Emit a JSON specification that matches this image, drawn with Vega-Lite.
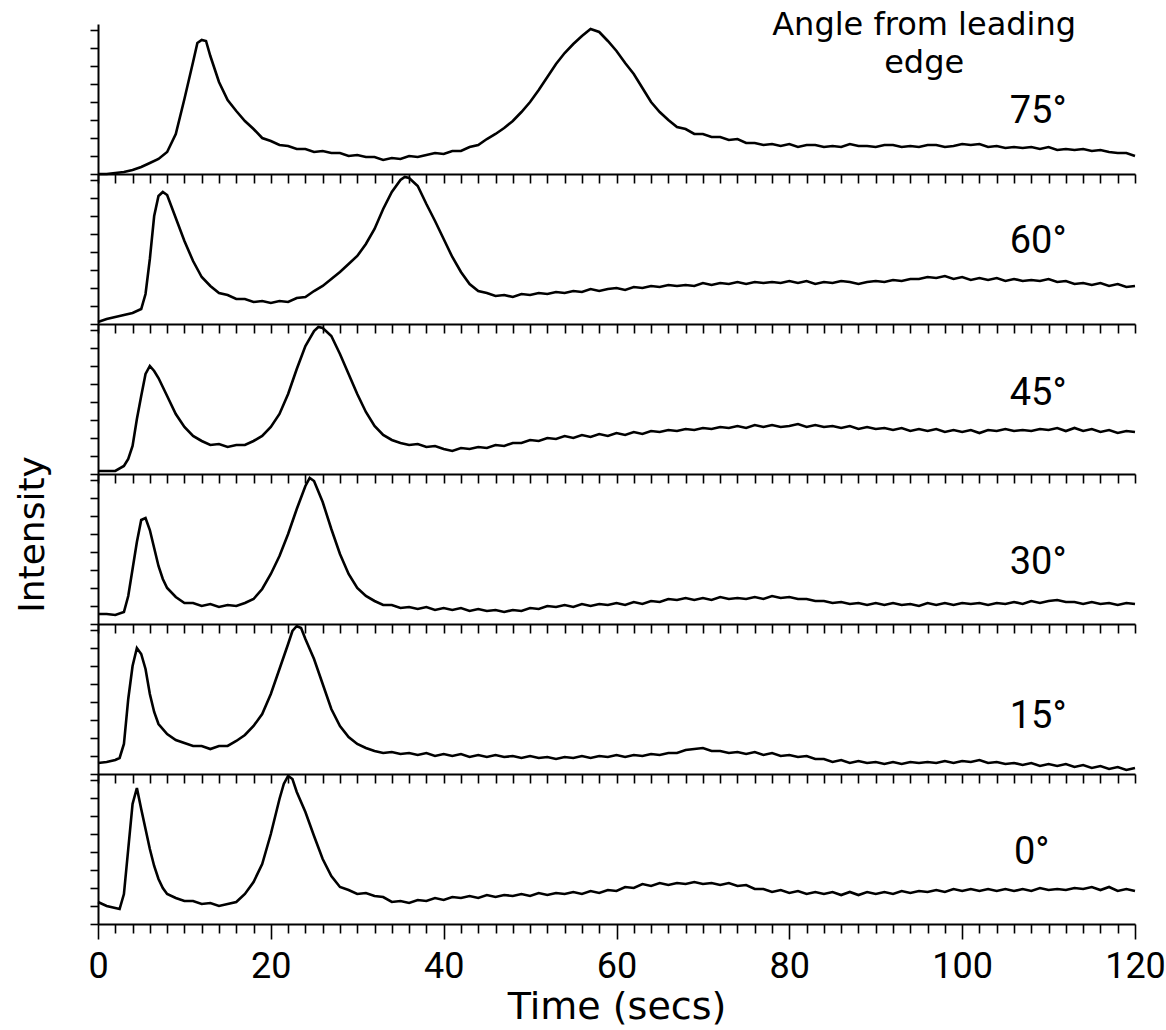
{
"$schema": "https://vega.github.io/schema/vega-lite/v6.json",
"background": "white",
"padding": {"left": 14, "top": 9, "right": 0, "bottom": 2},
"spacing": 0,
"bounds": "flush",
"config": {"view": {"stroke": null}, "axis": {"domainColor": "#000", "tickColor": "#000", "domainWidth": 2, "tickWidth": 1.6, "grid": false, "labelColor": "#000", "titleColor": "#000"}},
"datasets": {
"a75": [{"t":0,"v":0},{"t":1,"v":0},{"t":2,"v":1},{"t":3,"v":2},{"t":4,"v":4},{"t":5,"v":7},{"t":6,"v":11},{"t":7,"v":15},{"t":8,"v":22},{"t":9,"v":40},{"t":10,"v":75},{"t":11,"v":112},{"t":11.5,"v":131},{"t":12,"v":134},{"t":12.5,"v":133},{"t":13,"v":118},{"t":14,"v":92},{"t":15,"v":74},{"t":16,"v":63},{"t":17,"v":53},{"t":18,"v":45},{"t":19,"v":36},{"t":20,"v":33},{"t":21,"v":29},{"t":22,"v":28},{"t":23,"v":25},{"t":24,"v":25},{"t":25,"v":22},{"t":26,"v":23},{"t":27,"v":21},{"t":28,"v":21},{"t":29,"v":18},{"t":30,"v":19},{"t":31,"v":17},{"t":32,"v":17},{"t":33,"v":14},{"t":34,"v":16},{"t":35,"v":15},{"t":36,"v":18},{"t":37,"v":17},{"t":38,"v":19},{"t":39,"v":21},{"t":40,"v":20},{"t":41,"v":23},{"t":42,"v":23},{"t":43,"v":27},{"t":44,"v":29},{"t":45,"v":35},{"t":46,"v":40},{"t":47,"v":46},{"t":48,"v":53},{"t":49,"v":62},{"t":50,"v":72},{"t":51,"v":84},{"t":52,"v":97},{"t":53,"v":110},{"t":54,"v":121},{"t":55,"v":130},{"t":56,"v":138},{"t":57,"v":145},{"t":58,"v":142},{"t":59,"v":133},{"t":60,"v":123},{"t":61,"v":111},{"t":62,"v":100},{"t":63,"v":86},{"t":64,"v":72},{"t":65,"v":62},{"t":66,"v":54},{"t":67,"v":47},{"t":68,"v":45},{"t":69,"v":40},{"t":70,"v":40},{"t":71,"v":37},{"t":72,"v":37},{"t":73,"v":34},{"t":74,"v":35},{"t":75,"v":31},{"t":76,"v":31},{"t":77,"v":29},{"t":78,"v":30},{"t":79,"v":28},{"t":80,"v":30},{"t":81,"v":27},{"t":82,"v":29},{"t":83,"v":29},{"t":84,"v":27},{"t":85,"v":28},{"t":86,"v":27},{"t":87,"v":30},{"t":88,"v":28},{"t":89,"v":28},{"t":90,"v":27},{"t":91,"v":29},{"t":92,"v":29},{"t":93,"v":27},{"t":94,"v":28},{"t":95,"v":27},{"t":96,"v":29},{"t":97,"v":29},{"t":98,"v":27},{"t":99,"v":28},{"t":100,"v":30},{"t":101,"v":29},{"t":102,"v":30},{"t":103,"v":27},{"t":104,"v":28},{"t":105,"v":26},{"t":106,"v":27},{"t":107,"v":26},{"t":108,"v":27},{"t":109,"v":25},{"t":110,"v":27},{"t":111,"v":24},{"t":112,"v":25},{"t":113,"v":24},{"t":114,"v":25},{"t":115,"v":23},{"t":116,"v":24},{"t":117,"v":22},{"t":118,"v":21},{"t":119,"v":21},{"t":120,"v":18}],
"a60": [{"t":0,"v":2},{"t":1,"v":5},{"t":2,"v":7},{"t":3,"v":9},{"t":4,"v":11},{"t":5,"v":15},{"t":5.5,"v":30},{"t":6,"v":65},{"t":6.5,"v":108},{"t":7,"v":128},{"t":7.5,"v":132},{"t":8,"v":129},{"t":9,"v":106},{"t":10,"v":83},{"t":11,"v":63},{"t":12,"v":47},{"t":13,"v":38},{"t":14,"v":31},{"t":15,"v":29},{"t":16,"v":25},{"t":17,"v":25},{"t":18,"v":22},{"t":19,"v":23},{"t":20,"v":21},{"t":21,"v":23},{"t":22,"v":22},{"t":23,"v":26},{"t":24,"v":27},{"t":25,"v":33},{"t":26,"v":38},{"t":27,"v":45},{"t":28,"v":52},{"t":29,"v":60},{"t":30,"v":68},{"t":31,"v":80},{"t":32,"v":95},{"t":33,"v":115},{"t":34,"v":132},{"t":35,"v":144},{"t":35.5,"v":147},{"t":36,"v":146},{"t":37,"v":138},{"t":38,"v":120},{"t":39,"v":103},{"t":40,"v":85},{"t":41,"v":67},{"t":42,"v":52},{"t":43,"v":40},{"t":44,"v":33},{"t":45,"v":31},{"t":46,"v":28},{"t":47,"v":29},{"t":48,"v":27},{"t":49,"v":30},{"t":50,"v":29},{"t":51,"v":31},{"t":52,"v":30},{"t":53,"v":32},{"t":54,"v":31},{"t":55,"v":33},{"t":56,"v":32},{"t":57,"v":35},{"t":58,"v":33},{"t":59,"v":35},{"t":60,"v":36},{"t":61,"v":34},{"t":62,"v":37},{"t":63,"v":36},{"t":64,"v":38},{"t":65,"v":37},{"t":66,"v":39},{"t":67,"v":38},{"t":68,"v":39},{"t":69,"v":38},{"t":70,"v":41},{"t":71,"v":39},{"t":72,"v":41},{"t":73,"v":40},{"t":74,"v":42},{"t":75,"v":40},{"t":76,"v":42},{"t":77,"v":41},{"t":78,"v":42},{"t":79,"v":41},{"t":80,"v":43},{"t":81,"v":41},{"t":82,"v":43},{"t":83,"v":40},{"t":84,"v":42},{"t":85,"v":41},{"t":86,"v":43},{"t":87,"v":42},{"t":88,"v":40},{"t":89,"v":42},{"t":90,"v":43},{"t":91,"v":42},{"t":92,"v":44},{"t":93,"v":43},{"t":94,"v":45},{"t":95,"v":45},{"t":96,"v":47},{"t":97,"v":46},{"t":98,"v":48},{"t":99,"v":45},{"t":100,"v":47},{"t":101,"v":44},{"t":102,"v":46},{"t":103,"v":44},{"t":104,"v":46},{"t":105,"v":43},{"t":106,"v":45},{"t":107,"v":43},{"t":108,"v":44},{"t":109,"v":43},{"t":110,"v":45},{"t":111,"v":42},{"t":112,"v":43},{"t":113,"v":40},{"t":114,"v":41},{"t":115,"v":39},{"t":116,"v":41},{"t":117,"v":38},{"t":118,"v":40},{"t":119,"v":37},{"t":120,"v":38}],
"a45": [{"t":0,"v":3},{"t":1,"v":3},{"t":2,"v":3},{"t":3,"v":8},{"t":3.5,"v":15},{"t":4,"v":28},{"t":4.5,"v":55},{"t":5,"v":78},{"t":5.5,"v":100},{"t":6,"v":108},{"t":6.5,"v":103},{"t":7,"v":96},{"t":8,"v":78},{"t":9,"v":60},{"t":10,"v":47},{"t":11,"v":38},{"t":12,"v":33},{"t":13,"v":29},{"t":14,"v":30},{"t":15,"v":27},{"t":16,"v":29},{"t":17,"v":29},{"t":18,"v":33},{"t":19,"v":38},{"t":20,"v":47},{"t":21,"v":60},{"t":22,"v":80},{"t":23,"v":105},{"t":24,"v":128},{"t":25,"v":143},{"t":25.5,"v":147},{"t":26,"v":146},{"t":27,"v":138},{"t":28,"v":120},{"t":29,"v":100},{"t":30,"v":80},{"t":31,"v":62},{"t":32,"v":48},{"t":33,"v":39},{"t":34,"v":34},{"t":35,"v":31},{"t":36,"v":29},{"t":37,"v":30},{"t":38,"v":27},{"t":39,"v":28},{"t":40,"v":25},{"t":41,"v":23},{"t":42,"v":26},{"t":43,"v":25},{"t":44,"v":27},{"t":45,"v":26},{"t":46,"v":29},{"t":47,"v":28},{"t":48,"v":31},{"t":49,"v":31},{"t":50,"v":34},{"t":51,"v":33},{"t":52,"v":36},{"t":53,"v":35},{"t":54,"v":38},{"t":55,"v":36},{"t":56,"v":39},{"t":57,"v":37},{"t":58,"v":40},{"t":59,"v":38},{"t":60,"v":41},{"t":61,"v":39},{"t":62,"v":42},{"t":63,"v":40},{"t":64,"v":43},{"t":65,"v":42},{"t":66,"v":44},{"t":67,"v":43},{"t":68,"v":45},{"t":69,"v":44},{"t":70,"v":46},{"t":71,"v":45},{"t":72,"v":47},{"t":73,"v":46},{"t":74,"v":48},{"t":75,"v":46},{"t":76,"v":49},{"t":77,"v":47},{"t":78,"v":49},{"t":79,"v":47},{"t":80,"v":48},{"t":81,"v":50},{"t":82,"v":47},{"t":83,"v":49},{"t":84,"v":47},{"t":85,"v":48},{"t":86,"v":46},{"t":87,"v":48},{"t":88,"v":45},{"t":89,"v":47},{"t":90,"v":45},{"t":91,"v":46},{"t":92,"v":44},{"t":93,"v":46},{"t":94,"v":43},{"t":95,"v":45},{"t":96,"v":43},{"t":97,"v":45},{"t":98,"v":42},{"t":99,"v":44},{"t":100,"v":42},{"t":101,"v":44},{"t":102,"v":41},{"t":103,"v":44},{"t":104,"v":43},{"t":105,"v":45},{"t":106,"v":43},{"t":107,"v":44},{"t":108,"v":43},{"t":109,"v":45},{"t":110,"v":44},{"t":111,"v":46},{"t":112,"v":43},{"t":113,"v":46},{"t":114,"v":43},{"t":115,"v":45},{"t":116,"v":42},{"t":117,"v":44},{"t":118,"v":41},{"t":119,"v":43},{"t":120,"v":42}],
"a30": [{"t":0,"v":10},{"t":1,"v":10},{"t":2,"v":9},{"t":3,"v":12},{"t":3.5,"v":28},{"t":4,"v":55},{"t":4.5,"v":82},{"t":5,"v":104},{"t":5.5,"v":106},{"t":6,"v":94},{"t":6.5,"v":76},{"t":7,"v":58},{"t":7.5,"v":45},{"t":8,"v":36},{"t":9,"v":27},{"t":10,"v":21},{"t":11,"v":21},{"t":12,"v":18},{"t":13,"v":20},{"t":14,"v":17},{"t":15,"v":19},{"t":16,"v":18},{"t":17,"v":21},{"t":18,"v":25},{"t":19,"v":35},{"t":20,"v":50},{"t":21,"v":68},{"t":22,"v":90},{"t":23,"v":115},{"t":24,"v":138},{"t":24.5,"v":146},{"t":25,"v":143},{"t":26,"v":122},{"t":27,"v":95},{"t":28,"v":70},{"t":29,"v":50},{"t":30,"v":36},{"t":31,"v":28},{"t":32,"v":23},{"t":33,"v":19},{"t":34,"v":19},{"t":35,"v":16},{"t":36,"v":17},{"t":37,"v":15},{"t":38,"v":17},{"t":39,"v":14},{"t":40,"v":16},{"t":41,"v":14},{"t":42,"v":16},{"t":43,"v":13},{"t":44,"v":15},{"t":45,"v":13},{"t":46,"v":14},{"t":47,"v":12},{"t":48,"v":14},{"t":49,"v":13},{"t":50,"v":16},{"t":51,"v":15},{"t":52,"v":18},{"t":53,"v":17},{"t":54,"v":19},{"t":55,"v":17},{"t":56,"v":20},{"t":57,"v":18},{"t":58,"v":20},{"t":59,"v":19},{"t":60,"v":21},{"t":61,"v":19},{"t":62,"v":22},{"t":63,"v":20},{"t":64,"v":23},{"t":65,"v":22},{"t":66,"v":25},{"t":67,"v":24},{"t":68,"v":26},{"t":69,"v":24},{"t":70,"v":26},{"t":71,"v":24},{"t":72,"v":27},{"t":73,"v":25},{"t":74,"v":26},{"t":75,"v":25},{"t":76,"v":27},{"t":77,"v":25},{"t":78,"v":28},{"t":79,"v":26},{"t":80,"v":27},{"t":81,"v":25},{"t":82,"v":25},{"t":83,"v":23},{"t":84,"v":23},{"t":85,"v":21},{"t":86,"v":22},{"t":87,"v":20},{"t":88,"v":21},{"t":89,"v":19},{"t":90,"v":21},{"t":91,"v":19},{"t":92,"v":21},{"t":93,"v":19},{"t":94,"v":20},{"t":95,"v":18},{"t":96,"v":21},{"t":97,"v":19},{"t":98,"v":21},{"t":99,"v":19},{"t":100,"v":21},{"t":101,"v":20},{"t":102,"v":21},{"t":103,"v":19},{"t":104,"v":21},{"t":105,"v":20},{"t":106,"v":22},{"t":107,"v":20},{"t":108,"v":23},{"t":109,"v":21},{"t":110,"v":23},{"t":111,"v":24},{"t":112,"v":22},{"t":113,"v":22},{"t":114,"v":20},{"t":115,"v":22},{"t":116,"v":20},{"t":117,"v":21},{"t":118,"v":19},{"t":119,"v":21},{"t":120,"v":20}],
"a15": [{"t":0,"v":11},{"t":1,"v":12},{"t":2,"v":14},{"t":2.5,"v":16},{"t":3,"v":30},{"t":3.5,"v":75},{"t":4,"v":108},{"t":4.5,"v":126},{"t":5,"v":120},{"t":5.5,"v":105},{"t":6,"v":80},{"t":6.5,"v":62},{"t":7,"v":50},{"t":8,"v":40},{"t":9,"v":34},{"t":10,"v":31},{"t":11,"v":28},{"t":12,"v":28},{"t":13,"v":25},{"t":14,"v":28},{"t":15,"v":28},{"t":16,"v":33},{"t":17,"v":39},{"t":18,"v":48},{"t":19,"v":60},{"t":20,"v":80},{"t":21,"v":105},{"t":22,"v":130},{"t":22.5,"v":143},{"t":23,"v":148},{"t":23.5,"v":146},{"t":24,"v":135},{"t":25,"v":115},{"t":26,"v":90},{"t":27,"v":65},{"t":28,"v":48},{"t":29,"v":37},{"t":30,"v":30},{"t":31,"v":26},{"t":32,"v":23},{"t":33,"v":21},{"t":34,"v":22},{"t":35,"v":20},{"t":36,"v":21},{"t":37,"v":19},{"t":38,"v":21},{"t":39,"v":18},{"t":40,"v":20},{"t":41,"v":18},{"t":42,"v":20},{"t":43,"v":17},{"t":44,"v":19},{"t":45,"v":17},{"t":46,"v":19},{"t":47,"v":17},{"t":48,"v":18},{"t":49,"v":16},{"t":50,"v":18},{"t":51,"v":16},{"t":52,"v":17},{"t":53,"v":15},{"t":54,"v":17},{"t":55,"v":16},{"t":56,"v":18},{"t":57,"v":16},{"t":58,"v":18},{"t":59,"v":17},{"t":60,"v":19},{"t":61,"v":17},{"t":62,"v":19},{"t":63,"v":18},{"t":64,"v":20},{"t":65,"v":19},{"t":66,"v":21},{"t":67,"v":21},{"t":68,"v":24},{"t":69,"v":25},{"t":70,"v":26},{"t":71,"v":23},{"t":72,"v":23},{"t":73,"v":21},{"t":74,"v":22},{"t":75,"v":20},{"t":76,"v":22},{"t":77,"v":19},{"t":78,"v":21},{"t":79,"v":18},{"t":80,"v":19},{"t":81,"v":17},{"t":82,"v":18},{"t":83,"v":15},{"t":84,"v":15},{"t":85,"v":12},{"t":86,"v":14},{"t":87,"v":11},{"t":88,"v":13},{"t":89,"v":11},{"t":90,"v":12},{"t":91,"v":10},{"t":92,"v":12},{"t":93,"v":10},{"t":94,"v":12},{"t":95,"v":11},{"t":96,"v":12},{"t":97,"v":11},{"t":98,"v":13},{"t":99,"v":11},{"t":100,"v":13},{"t":101,"v":12},{"t":102,"v":14},{"t":103,"v":11},{"t":104,"v":12},{"t":105,"v":10},{"t":106,"v":11},{"t":107,"v":9},{"t":108,"v":11},{"t":109,"v":8},{"t":110,"v":10},{"t":111,"v":8},{"t":112,"v":10},{"t":113,"v":7},{"t":114,"v":9},{"t":115,"v":6},{"t":116,"v":8},{"t":117,"v":5},{"t":118,"v":7},{"t":119,"v":4},{"t":120,"v":6}],
"a0": [{"t":0,"v":22},{"t":1,"v":18},{"t":2,"v":16},{"t":2.5,"v":15},{"t":3,"v":30},{"t":3.5,"v":75},{"t":4,"v":120},{"t":4.5,"v":136},{"t":5,"v":115},{"t":5.5,"v":95},{"t":6,"v":75},{"t":6.5,"v":58},{"t":7,"v":45},{"t":7.5,"v":36},{"t":8,"v":30},{"t":9,"v":26},{"t":10,"v":23},{"t":11,"v":23},{"t":12,"v":20},{"t":13,"v":21},{"t":14,"v":18},{"t":15,"v":20},{"t":16,"v":22},{"t":17,"v":30},{"t":18,"v":42},{"t":19,"v":60},{"t":20,"v":90},{"t":21,"v":125},{"t":21.5,"v":140},{"t":22,"v":148},{"t":22.5,"v":145},{"t":23,"v":132},{"t":24,"v":112},{"t":25,"v":88},{"t":26,"v":65},{"t":27,"v":48},{"t":28,"v":37},{"t":29,"v":34},{"t":30,"v":30},{"t":31,"v":31},{"t":32,"v":28},{"t":33,"v":27},{"t":34,"v":22},{"t":35,"v":23},{"t":36,"v":21},{"t":37,"v":24},{"t":38,"v":23},{"t":39,"v":26},{"t":40,"v":24},{"t":41,"v":27},{"t":42,"v":26},{"t":43,"v":28},{"t":44,"v":26},{"t":45,"v":29},{"t":46,"v":27},{"t":47,"v":29},{"t":48,"v":28},{"t":49,"v":30},{"t":50,"v":28},{"t":51,"v":31},{"t":52,"v":29},{"t":53,"v":31},{"t":54,"v":30},{"t":55,"v":32},{"t":56,"v":30},{"t":57,"v":33},{"t":58,"v":31},{"t":59,"v":34},{"t":60,"v":33},{"t":61,"v":37},{"t":62,"v":36},{"t":63,"v":40},{"t":64,"v":38},{"t":65,"v":41},{"t":66,"v":39},{"t":67,"v":41},{"t":68,"v":40},{"t":69,"v":42},{"t":70,"v":40},{"t":71,"v":41},{"t":72,"v":39},{"t":73,"v":41},{"t":74,"v":38},{"t":75,"v":39},{"t":76,"v":35},{"t":77,"v":35},{"t":78,"v":32},{"t":79,"v":34},{"t":80,"v":31},{"t":81,"v":33},{"t":82,"v":30},{"t":83,"v":32},{"t":84,"v":30},{"t":85,"v":32},{"t":86,"v":29},{"t":87,"v":32},{"t":88,"v":29},{"t":89,"v":32},{"t":90,"v":30},{"t":91,"v":32},{"t":92,"v":30},{"t":93,"v":33},{"t":94,"v":31},{"t":95,"v":33},{"t":96,"v":32},{"t":97,"v":34},{"t":98,"v":32},{"t":99,"v":35},{"t":100,"v":33},{"t":101,"v":35},{"t":102,"v":33},{"t":103,"v":35},{"t":104,"v":33},{"t":105,"v":35},{"t":106,"v":33},{"t":107,"v":35},{"t":108,"v":33},{"t":109,"v":36},{"t":110,"v":34},{"t":111,"v":35},{"t":112,"v":34},{"t":113,"v":36},{"t":114,"v":35},{"t":115,"v":37},{"t":116,"v":34},{"t":117,"v":37},{"t":118,"v":33},{"t":119,"v":35},{"t":120,"v":33}]
},
"vconcat": [
{"width": 1037, "height": 150, "layer": [
 {"data": {"name": "a75"}, "mark": {"type": "line", "color": "#000", "strokeWidth": 2.6},
  "encoding": {"x": {"field": "t", "type": "quantitative", "scale": {"domain": [0, 120], "nice": false}, "axis": {"tickCount": 60, "labels": false, "title": null, "tickSize": 9}},
   "y": {"field": "v", "type": "quantitative", "scale": {"domain": [0, 150], "nice": false}, "axis": {"values": [0,18,36,54,72,90,108,126,144], "tickCount": 10, "labels": false, "title": null, "tickSize": 8}}}},
 {"data": {"values": [{"label": "75°"}]}, "mark": {"type": "text", "font": "Roboto", "fontSize": 38, "align": "left", "baseline": "alphabetic", "color": "#000"},
  "encoding": {"x": {"datum": 105.5}, "y": {"datum": 51}, "text": {"field": "label"}}},
 {"data": {"values": [{"label": "Angle from leading\nedge"}]}, "mark": {"type": "text", "font": "DejaVu Sans", "fontSize": 32, "align": "center", "baseline": "alphabetic", "lineBreak": "\n", "lineHeight": 38, "color": "#000"},
  "encoding": {"x": {"datum": 95.6}, "y": {"datum": 139}, "text": {"field": "label"}}}
]},
{"width": 1037, "height": 150, "layer": [
 {"data": {"name": "a60"}, "mark": {"type": "line", "color": "#000", "strokeWidth": 2.6},
  "encoding": {"x": {"field": "t", "type": "quantitative", "scale": {"domain": [0, 120], "nice": false}, "axis": {"tickCount": 60, "labels": false, "title": null, "tickSize": 9}},
   "y": {"field": "v", "type": "quantitative", "scale": {"domain": [0, 150], "nice": false}, "axis": {"values": [0,18,36,54,72,90,108,126,144], "tickCount": 10, "labels": false, "title": null, "tickSize": 8}}}},
 {"data": {"values": [{"label": "60°"}]}, "mark": {"type": "text", "font": "Roboto", "fontSize": 38, "align": "left", "baseline": "alphabetic", "color": "#000"},
  "encoding": {"x": {"datum": 105.5}, "y": {"datum": 71}, "text": {"field": "label"}}}
]},
{"width": 1037, "height": 150, "layer": [
 {"data": {"name": "a45"}, "mark": {"type": "line", "color": "#000", "strokeWidth": 2.6},
  "encoding": {"x": {"field": "t", "type": "quantitative", "scale": {"domain": [0, 120], "nice": false}, "axis": {"tickCount": 60, "labels": false, "title": null, "tickSize": 9}},
   "y": {"field": "v", "type": "quantitative", "scale": {"domain": [0, 150], "nice": false}, "axis": {"values": [0,18,36,54,72,90,108,126,144], "tickCount": 10, "labels": false, "title": null, "tickSize": 8}}}},
 {"data": {"values": [{"label": "45°"}]}, "mark": {"type": "text", "font": "Roboto", "fontSize": 38, "align": "left", "baseline": "alphabetic", "color": "#000"},
  "encoding": {"x": {"datum": 105.5}, "y": {"datum": 69}, "text": {"field": "label"}}}
]},
{"width": 1037, "height": 150, "layer": [
 {"data": {"name": "a30"}, "mark": {"type": "line", "color": "#000", "strokeWidth": 2.6},
  "encoding": {"x": {"field": "t", "type": "quantitative", "scale": {"domain": [0, 120], "nice": false}, "axis": {"tickCount": 60, "labels": false, "title": null, "tickSize": 9}},
   "y": {"field": "v", "type": "quantitative", "scale": {"domain": [0, 150], "nice": false}, "axis": {"values": [0,18,36,54,72,90,108,126,144], "tickCount": 10, "labels": false, "tickSize": 8, "title": "Intensity", "titleFont": "DejaVu Sans", "titleFontSize": 36, "titleFontWeight": "normal", "titlePadding": 38, "titleY": 60}}}},
 {"data": {"values": [{"label": "30°"}]}, "mark": {"type": "text", "font": "Roboto", "fontSize": 38, "align": "left", "baseline": "alphabetic", "color": "#000"},
  "encoding": {"x": {"datum": 105.5}, "y": {"datum": 50}, "text": {"field": "label"}}}
]},
{"width": 1037, "height": 150, "layer": [
 {"data": {"name": "a15"}, "mark": {"type": "line", "color": "#000", "strokeWidth": 2.6},
  "encoding": {"x": {"field": "t", "type": "quantitative", "scale": {"domain": [0, 120], "nice": false}, "axis": {"tickCount": 60, "labels": false, "title": null, "tickSize": 9}},
   "y": {"field": "v", "type": "quantitative", "scale": {"domain": [0, 150], "nice": false}, "axis": {"values": [0,18,36,54,72,90,108,126,144], "tickCount": 10, "labels": false, "title": null, "tickSize": 8}}}},
 {"data": {"values": [{"label": "15°"}]}, "mark": {"type": "text", "font": "Roboto", "fontSize": 38, "align": "left", "baseline": "alphabetic", "color": "#000"},
  "encoding": {"x": {"datum": 105.5}, "y": {"datum": 46}, "text": {"field": "label"}}}
]},
{"width": 1037, "height": 150, "layer": [
 {"data": {"name": "a0"}, "mark": {"type": "line", "color": "#000", "strokeWidth": 2.6},
  "encoding": {"x": {"field": "t", "type": "quantitative", "scale": {"domain": [0, 120], "nice": false}, "axis": {"tickCount": 60, "tickSize": {"condition": {"test": "datum.value % 20 === 0", "value": 15}, "value": 9}, "labelExpr": "datum.value % 20 === 0 ? datum.label : ''", "labelOverlap": false, "labelFlush": false, "labelFont": "Roboto", "labelFontSize": 36, "labelPadding": 10, "title": "Time (secs)", "titleFont": "DejaVu Sans", "titleFontSize": 38, "titleFontWeight": "normal", "titlePadding": 4}},
   "y": {"field": "v", "type": "quantitative", "scale": {"domain": [0, 150], "nice": false}, "axis": {"values": [0,18,36,54,72,90,108,126,144], "tickCount": 10, "labels": false, "title": null, "tickSize": 8}}}},
 {"data": {"values": [{"label": "0°"}]}, "mark": {"type": "text", "font": "Roboto", "fontSize": 38, "align": "left", "baseline": "alphabetic", "color": "#000"},
  "encoding": {"x": {"datum": 106}, "y": {"datum": 60}, "text": {"field": "label"}}}
]}
]
}
